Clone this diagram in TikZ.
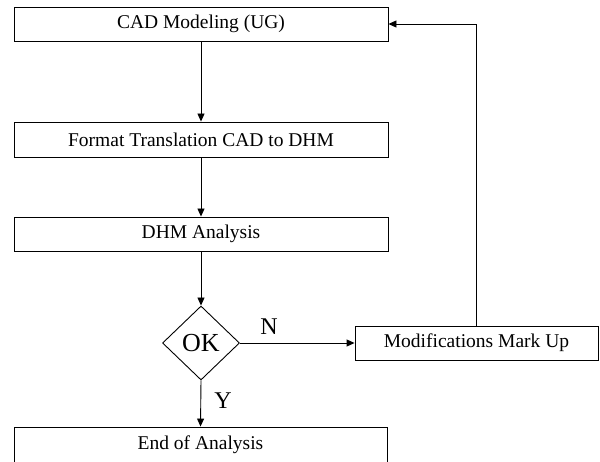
\documentclass[tikz,border=0pt]{standalone}
\usepackage{fontspec}
\setmainfont{Liberation Serif}
\usetikzlibrary{shapes.geometric,arrows.meta}
\begin{document}
\begin{tikzpicture}[x=1pt,y=1pt,
  box/.style={draw,line width=0.9pt,inner sep=0pt,minimum height=34pt,font=\fontsize{19.5}{22}\selectfont},
  dec/.style={draw,diamond,line width=0.9pt,inner sep=0pt,minimum width=77pt,minimum height=74pt,font=\fontsize{26}{28}\selectfont},
  lbl/.style={inner sep=0pt,font=\fontsize{24}{26}\selectfont},
  arr/.style={line width=0.9pt,-{Triangle[length=8pt,width=7pt]}},
  ln/.style={line width=0.9pt}]
\path[use as bounding box,fill=white] (0,0) rectangle (600,461);
\begin{scope}
\clip (0,0) rectangle (600,461);
\node[box,minimum width=374pt] (cad) at (201,437) {CAD Modeling (UG)};
\node[box,minimum width=374pt,minimum height=35pt] (fmt) at (201,321.5) {Format Translation CAD to DHM};
\node[box,minimum width=374pt] (dhm) at (201,227) {DHM Analysis};
\node[dec] (ok) at (201,118) {OK};
\node[box,minimum width=243pt] (mod) at (476.5,118) {Modifications Mark Up};
\node[box,minimum width=373pt,minimum height=36pt] (end) at (200.5,16) {End of Analysis};
\coordinate (corner) at (mod.north |- cad.east);
\draw[arr] (cad) -- (fmt);
\draw[arr] (fmt) -- (dhm);
\draw[arr] (dhm) -- (ok);
\draw[arr] (ok.east) -- (mod.west);
\draw[arr] (ok.south) -- (end.north);
\draw[ln] (mod.north) -- (corner);
\draw[arr] (corner) -- (cad.east);
\node[lbl] (n) at (269,134) {N};
\node[lbl] (y) at (223,60) {Y};
\end{scope}
\end{tikzpicture}
\end{document}
